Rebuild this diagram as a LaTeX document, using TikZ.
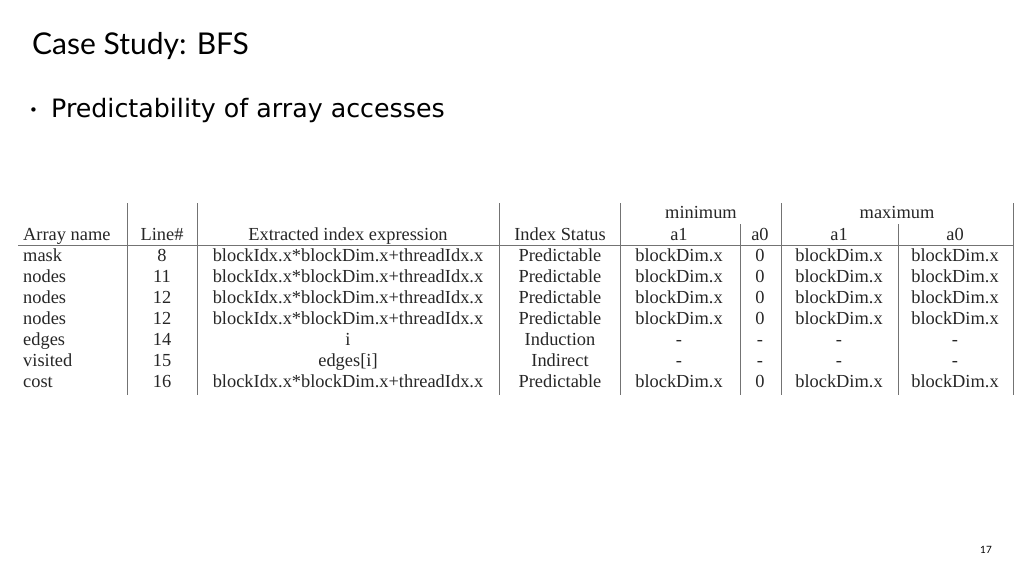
\documentclass[tikz,border=0pt]{standalone}
\usepackage{fontspec}
\setmainfont{Liberation Serif}
\newfontfamily\titlefont{Lato}
\newfontfamily\bodyfont{DejaVu Sans}
\begin{document}
\begin{tikzpicture}[x=1pt,y=-1pt,
  cell/.style={font=\fontsize{18.4}{18}\selectfont,text=black!85,inner sep=0pt,anchor=base},
  rule/.style={draw=black!55,line width=0.9pt}]
\useasboundingbox (0,0) rectangle (1024,576);
\node[anchor=west,font=\titlefont\fontsize{30}{30}\selectfont,inner sep=0pt] (title) at (32,46) {Case Study: BFS};
\node[anchor=west,font=\bodyfont\fontsize{15}{15}\selectfont,inner sep=0pt] (dot) at (29,112) {\textbullet};
\node[anchor=west,font=\bodyfont\fontsize{25.3}{25}\selectfont,inner sep=0pt] (bullet) at (51,111) {Predictability of array accesses};
\node[anchor=base,font=\titlefont\fontsize{10}{10}\selectfont] (pg) at (986,553) {17};
% rules
\foreach \x in {127,197,499,620,781,1013} \draw[rule] (\x,203) -- (\x,395);
\foreach \x in {740,898} \draw[rule] (\x,224) -- (\x,395);
\draw[rule] (18,245) -- (1013,245);
% headers
\node[cell] (hmin) at (701,218) {minimum};
\node[cell] (hmax) at (897,218) {maximum};
\node[cell,anchor=base west] (h1) at (23,240) {Array name};
\node[cell] (h2) at (162,240) {Line\#};
\node[cell] (h3) at (348,240) {Extracted index expression};
\node[cell] (h4) at (560,240) {Index Status};
\node[cell] (h5) at (679,240) {a1};
\node[cell] (h6) at (760,240) {a0};
\node[cell] (h7) at (839,240) {a1};
\node[cell] (h8) at (955,240) {a0};
\def\E{blockIdx.x*blockDim.x+threadIdx.x}
\def\B{blockDim.x}
\foreach \n/\l/\e/\s/\a/\b/\c/\d [count=\i] in {
 mask/8/\E/Predictable/\B/0/\B/\B,
 nodes/11/\E/Predictable/\B/0/\B/\B,
 nodes/12/\E/Predictable/\B/0/\B/\B,
 nodes/12/\E/Predictable/\B/0/\B/\B,
 edges/14/i/Induction/-/-/-/-,
 visited/15/{edges[i]}/Indirect/-/-/-/-,
 cost/16/\E/Predictable/\B/0/\B/\B}{
  \pgfmathsetmacro\yy{261+21*(\i-1)}
  \node[cell,anchor=base west] (r\i a) at (23,\yy) {\n};
  \node[cell] (r\i b) at (162,\yy) {\l};
  \node[cell] (r\i c) at (348,\yy) {\e};
  \node[cell] (r\i d) at (560,\yy) {\s};
  \node[cell] (r\i e) at (679,\yy) {\a};
  \node[cell] (r\i f) at (760,\yy) {\b};
  \node[cell] (r\i g) at (839,\yy) {\c};
  \node[cell] (r\i h) at (955,\yy) {\d};
}
\end{tikzpicture}
\end{document}
